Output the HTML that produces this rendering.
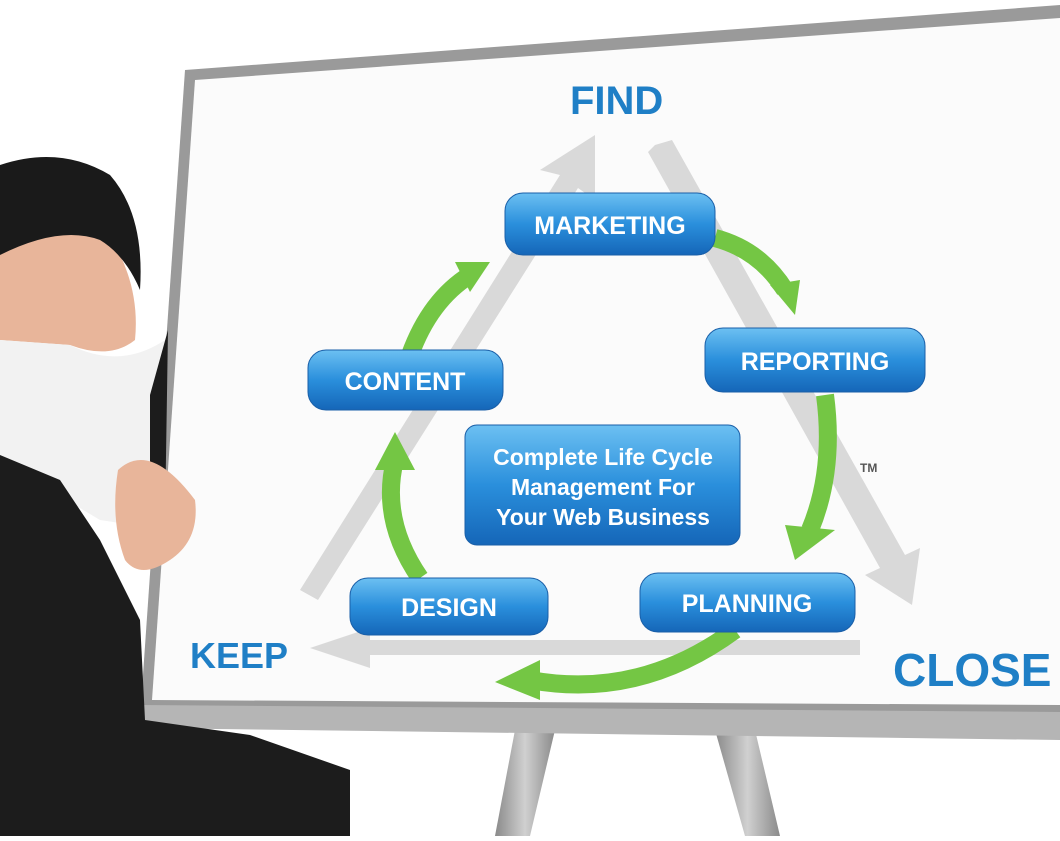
<!DOCTYPE html>
<html><head><style>
body{margin:0;width:1060px;height:836px;overflow:hidden;background:#fff;font-family:"Liberation Sans",sans-serif}
</style></head><body>
<svg width="1060" height="836" viewBox="0 0 1060 836" xmlns="http://www.w3.org/2000/svg">
<defs>
<linearGradient id="pill" x1="0" y1="0" x2="0" y2="1">
<stop offset="0" stop-color="#6cc0f2"/><stop offset="0.5" stop-color="#2a8fdc"/><stop offset="1" stop-color="#1566b8"/>
</linearGradient>
<linearGradient id="leg" x1="0" y1="0" x2="1" y2="0"><stop offset="0" stop-color="#8a8a8a"/><stop offset="0.5" stop-color="#d0d0d0"/><stop offset="1" stop-color="#8a8a8a"/></linearGradient>
</defs>
<polygon points="515,730 555,730 530,836 495,836" fill="url(#leg)"/>
<polygon points="715,730 755,730 780,836 745,836" fill="url(#leg)"/>
<polygon points="185,70 1060,5 1060,735 140,718" fill="#9a9a9a"/>
<polygon points="195,80 1060,18 1060,705 152,700" fill="#fbfbfb"/>
<polygon points="140,705 1060,712 1060,740 140,728" fill="#b5b5b5"/>
<g fill="#d9d9d9">
<polygon points="300,590 560,175 540,170 595,135 595,200 578,188 318,600"/>
<polygon points="655,145 672,140 905,555 920,548 912,605 865,575 880,568 648,152"/>
<polygon points="860,655 370,655 370,668 310,648 370,628 370,640 860,640"/>
</g>
<g fill="none" stroke="#74c644" stroke-width="18">
<path d="M715,238 Q760,250 785,290"/>
<path d="M825,395 Q835,470 810,530"/>
<path d="M735,630 Q640,700 530,680"/>
<path d="M420,578 Q380,520 395,460"/>
<path d="M410,355 Q430,300 470,275"/>
</g>
<g fill="#74c644">
<polygon points="770,285 800,280 795,315"/>
<polygon points="785,525 835,530 795,560"/>
<polygon points="540,660 540,700 495,682"/>
<polygon points="375,470 415,470 395,432"/>
<polygon points="455,262 490,262 470,292"/>
</g>
<g fill="url(#pill)" stroke="#1a5fa8" stroke-width="1">
<rect x="505" y="193" width="210" height="62" rx="18"/>
<rect x="705" y="328" width="220" height="64" rx="18"/>
<rect x="308" y="350" width="195" height="60" rx="18"/>
<rect x="350" y="578" width="198" height="57" rx="18"/>
<rect x="640" y="573" width="215" height="59" rx="18"/>
<rect x="465" y="425" width="275" height="120" rx="12"/>
</g>
<g fill="#fff" font-weight="bold" font-size="25" text-anchor="middle">
<text x="610" y="234">MARKETING</text>
<text x="815" y="370">REPORTING</text>
<text x="405" y="390">CONTENT</text>
<text x="449" y="616">DESIGN</text>
<text x="747" y="612">PLANNING</text>
<text font-size="23" x="603" y="465">Complete Life Cycle</text>
<text font-size="23" x="603" y="495">Management For</text>
<text font-size="23" x="603" y="525">Your Web Business</text>
</g>
<g fill="#1f7fc6" font-weight="bold">
<text x="570" y="114" font-size="40">FIND</text>
<text x="190" y="668" font-size="36">KEEP</text>
<text x="893" y="686" font-size="46">CLOSE</text>
<text x="860" y="472" font-size="12" fill="#555">TM</text>
</g>
<!-- woman -->
<path d="M0,250 Q60,215 115,245 Q140,290 135,340 Q110,360 70,345 L0,340 Z" fill="#e8b59a"/>
<path d="M0,165 Q60,145 110,175 Q145,215 140,290 Q125,255 100,240 Q60,225 0,255 Z" fill="#1a1a1a"/>
<path d="M0,340 L70,345 Q120,370 165,340 L165,530 L100,520 L0,460 Z" fill="#f2f2f2"/>
<path d="M150,395 L168,330 L165,520 L150,470 Z" fill="#1c1c1c"/>
<path d="M0,455 L60,480 L100,540 L140,620 L145,720 L250,735 L350,770 L350,836 L0,836 Z" fill="#1c1c1c"/>
<path d="M118,470 Q150,440 195,500 Q200,540 170,560 Q140,580 125,560 Q110,520 118,470 Z" fill="#e8b59a"/>
</svg>
</body></html>
